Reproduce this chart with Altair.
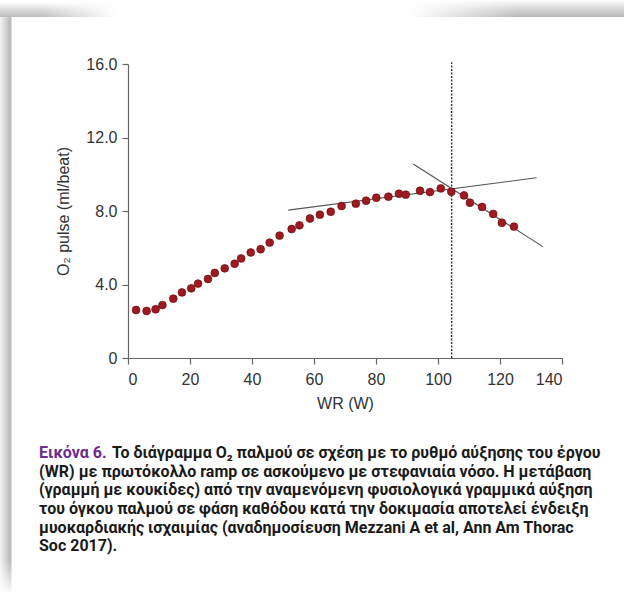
import altair as alt
import pandas as pd

# ---- data ----
wr = [2.6, 6.0, 8.9, 11.1, 14.6, 17.4, 20.4, 22.6, 25.8, 28.0, 31.2, 34.4, 36.5,
      39.6, 42.8, 45.7, 48.9, 52.8, 55.3, 58.7, 61.9, 65.4, 68.9, 73.5, 76.8,
      80.1, 84.0, 87.4, 89.6, 94.2, 97.4, 100.9, 104.3, 108.4, 110.3, 114.2,
      117.8, 120.6, 124.5]
o2_pulse = [2.61, 2.56, 2.65, 2.88, 3.23, 3.57, 3.79, 4.05, 4.30, 4.63, 4.88, 5.13,
            5.42, 5.74, 5.92, 6.28, 6.66, 7.02, 7.22, 7.59, 7.80, 7.96, 8.27, 8.40,
            8.56, 8.72, 8.78, 8.94, 8.89, 9.10, 9.03, 9.23, 9.05, 8.85, 8.45, 8.22,
            7.84, 7.36, 7.15]

fit_seg = ["rise", "rise", "fall", "fall"]
fit_wr = [51.7, 131.8, 92.0, 133.8]
fit_o2 = [8.05, 9.81, 10.56, 6.06]

threshold_wr = [104.4]
threshold_bottom = [0.0]
threshold_top = [16.1]

x_ticks = [0, 20, 40, 60, 80, 100, 120, 140]
y_ticks = [0, 4, 8, 12, 16]

caption_label = "Εικόνα 6."
caption_first = "Το διάγραμμα O₂ παλμού σε σχέση με το ρυθμό αύξησης του έργου"
caption_rest = [
    "(WR) με πρωτόκολλο ramp σε ασκούμενο  με στεφανιαία νόσο. Η μετάβαση",
    "(γραμμή με κουκίδες) από την αναμενόμενη φυσιολογικά γραμμικά αύξηση",
    "του όγκου παλμού σε φάση καθόδου κατά την δοκιμασία αποτελεί ένδειξη",
    "μυοκαρδιακής ισχαιμίας (αναδημοσίευση Mezzani A et al, Ann Am Thorac",
    "Soc 2017).",
]

# ---- tables ----
pts = pd.DataFrame({"wr": wr, "o2": o2_pulse})
fits = pd.DataFrame({"seg": fit_seg, "wr": fit_wr, "o2": fit_o2})
thr = pd.DataFrame({"wr": threshold_wr, "o2": threshold_bottom, "o2_top": threshold_top})
cap = pd.DataFrame({"rest": ["\n".join(caption_rest)], "lab": [caption_label],
                    "first": [caption_first]})
one = pd.DataFrame({"k": [0]})

AX_FONT = "Liberation Sans"
x_axis = alt.Axis(title="WR (W)", values=x_ticks, grid=False, tickSize=6,
                  labelPadding=7, titlePadding=8, domainColor="#666", tickColor="#666",
                  labelFont=AX_FONT, labelFontSize=16, labelColor="#333",
                  titleFont=AX_FONT, titleFontSize=16, titleFontWeight="normal",
                  titleColor="#333", domainWidth=1.2, tickWidth=1.2)
y_axis = alt.Axis(title="O₂ pulse (ml/beat)", values=y_ticks, grid=False, tickSize=6,
                  labelPadding=5, titlePadding=14, domainColor="#666", tickColor="#666",
                  labelFont=AX_FONT, labelFontSize=16, labelColor="#333",
                  labelExpr="datum.value == 0 ? '0' : format(datum.value, '.1f')",
                  titleFont=AX_FONT, titleFontSize=16, titleFontWeight="normal",
                  titleColor="#333", domainWidth=1.2, tickWidth=1.2)
xs = alt.Scale(domain=[0, 140], nice=False, zero=False)
ys = alt.Scale(domain=[0, 16], nice=False, zero=False)
x_enc = alt.X("wr:Q", scale=xs, axis=x_axis)
y_enc = alt.Y("o2:Q", scale=ys, axis=y_axis)

points = alt.Chart(pts).mark_circle(size=62, color="#9e1a20", opacity=1,
                                    stroke="#5e0c10", strokeWidth=0.6).encode(x=x_enc, y=y_enc)
lines = alt.Chart(fits).mark_line(color="#555555", strokeWidth=1.1).encode(
    x=x_enc, y=y_enc, detail="seg:N")
rule = alt.Chart(thr).mark_rule(color="#333333", strokeWidth=1.4, strokeDash=[2, 1.5]).encode(
    x=x_enc, y=y_enc, y2=alt.Y2("o2_top:Q"))

# ---- page decoration (shadows of the page edge), in pixels relative to plot origin ----
OX, OY = 128, 64


def grad(x1, y1, x2, y2, stops):
    return {"gradient": "linear", "x1": x1, "y1": y1, "x2": x2, "y2": y2,
            "stops": [{"offset": o, "color": c} for o, c in stops]}


def deco(x0, x1, y0, y1, color):
    return alt.Chart(one).mark_rect(color=color).encode(
        x=alt.value(x0 - OX), x2=alt.value(x1 - OX),
        y=alt.value(y0 - OY), y2=alt.value(y1 - OY))


shadow_left = deco(0, 12, 6, 592, grad(0, 0, 1, 0, [(0, "#f4f4f4"), (0.55, "#d0d0d0"), (0.85, "#b8b8b8"), (1, "#e6e6e6")]))
shadow_left_fade = deco(0, 12, 560, 596, grad(0, 0, 0, 1, [(0, "rgba(255,255,255,0)"), (1, "rgba(255,255,255,1)")]))
shadow_tl = deco(0, 115, 2, 17, grad(0, 0, 0, 1, [(0, "#ffffff"), (0.6, "#d4d4d4"), (1, "#bdbdbd")]))
shadow_tl_fade = deco(40, 115, 2, 17, grad(0, 0, 1, 0, [(0, "rgba(255,255,255,0)"), (1, "rgba(255,255,255,1)")]))
shadow_tr = deco(410, 624, 0, 17, grad(0, 0, 0, 1, [(0, "#ffffff"), (0.5, "#d8d8d8"), (1, "#b8b8b8")]))
shadow_tr_fade = deco(410, 520, 0, 17, grad(0, 0, 1, 0, [(0, "rgba(255,255,255,1)"), (1, "rgba(255,255,255,0)")]))

# ---- caption ----
CAP_FONT = "Roboto"
CAP_SIZE = 16
LINE_H = 18.7
cap_x = 39 - OX
cap_x_first = 112 - OX
cap_y = 445 - OY
cap_style = dict(align="left", baseline="top", font=CAP_FONT, fontSize=CAP_SIZE,
                 fontWeight="bold")
caption_lab = alt.Chart(cap).mark_text(color="#6a2c8f", **cap_style).encode(
    x=alt.value(cap_x), y=alt.value(cap_y), text="lab:N")
caption_1 = alt.Chart(cap).mark_text(color="#1a1a1a", **cap_style).encode(
    x=alt.value(cap_x_first), y=alt.value(cap_y), text="first:N")
caption_2 = alt.Chart(cap).mark_text(color="#1a1a1a", lineBreak="\n", lineHeight=LINE_H,
                                     **cap_style).encode(
    x=alt.value(cap_x), y=alt.value(cap_y + LINE_H), text="rest:N")

chart = alt.layer(
    shadow_left, shadow_left_fade, shadow_tl, shadow_tl_fade, shadow_tr, shadow_tr_fade,
    lines, rule, points, caption_lab, caption_1, caption_2
).properties(
    width=434, height=294,
    autosize=alt.AutoSizeParams(type="none"),
    padding={"left": OX, "top": OY, "right": 624 - OX - 434, "bottom": 596 - OY - 294},
    background="white",
).configure_view(stroke=None)

chart.save("out.html", embed_options={"renderer": "svg", "actions": False})
